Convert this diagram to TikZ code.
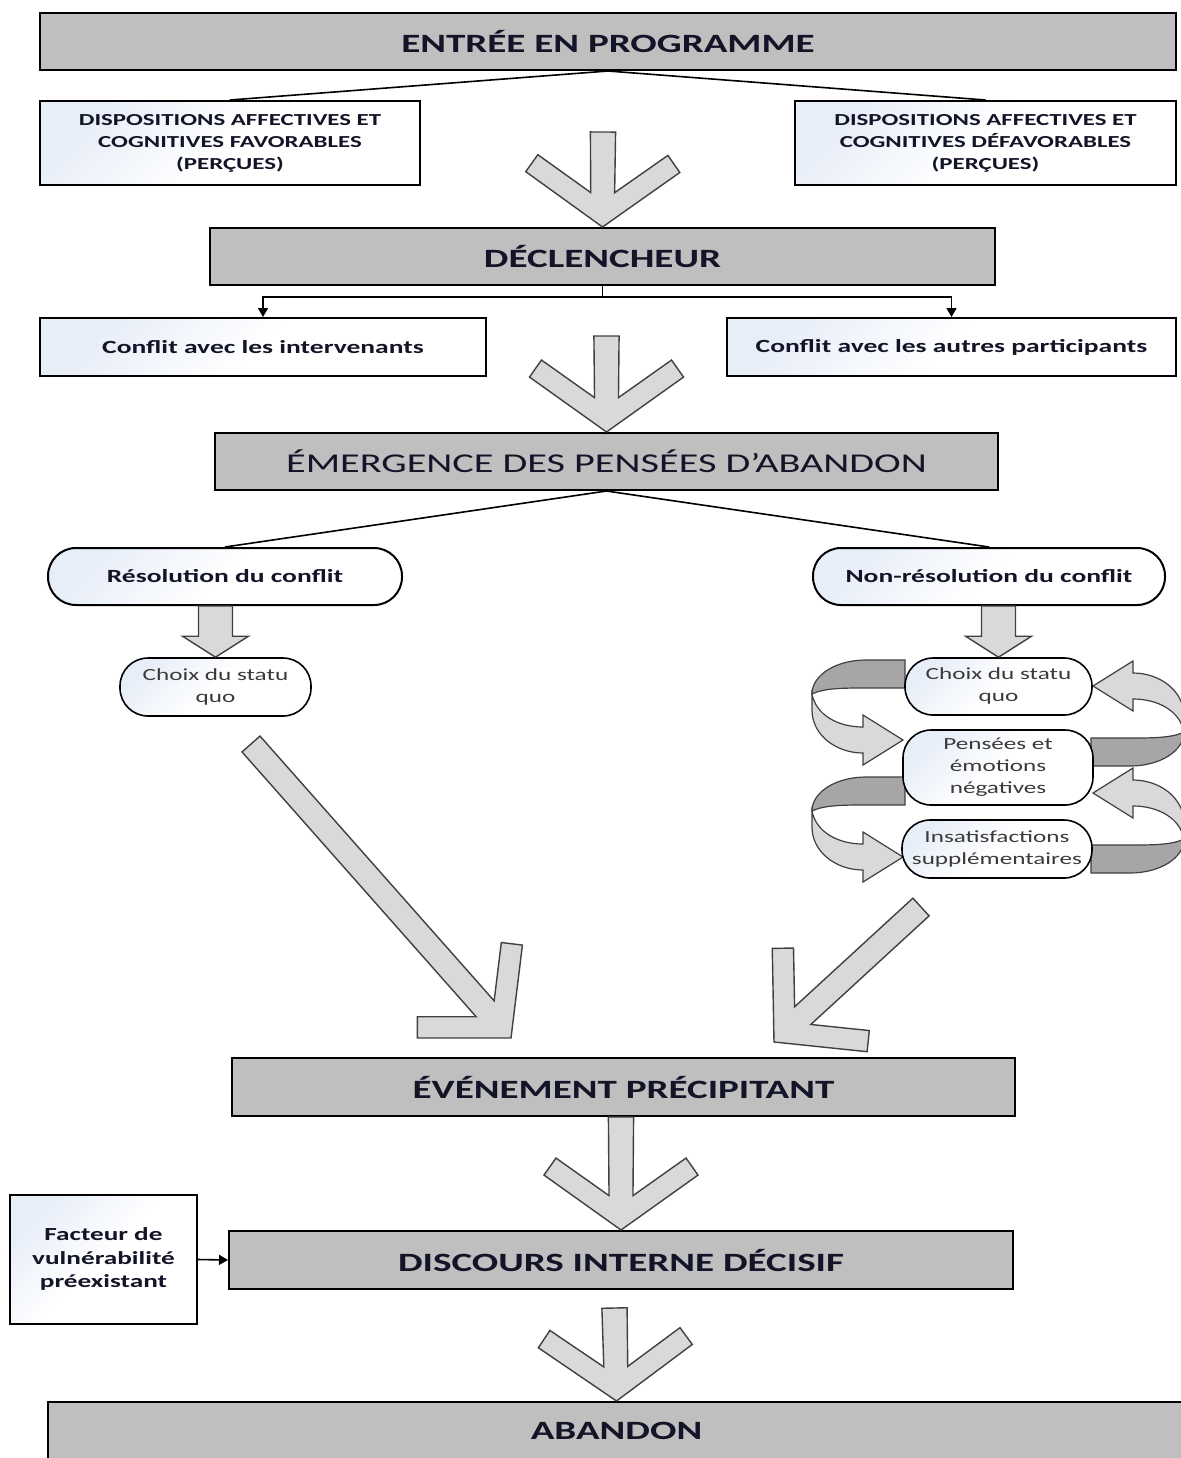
\documentclass[tikz,border=0pt]{standalone}
\usepackage{fontspec}
\setmainfont{Carlito}
\usepackage{graphicx}
\usetikzlibrary{calc,arrows.meta}

\definecolor{boxgray}{HTML}{BFBFBF}
\definecolor{arrowgray}{HTML}{D9D9D9}
\definecolor{bandgray}{HTML}{A6A6A6}
\definecolor{tint}{HTML}{E8EEF8}
\definecolor{inkgray}{HTML}{3A3A3A}
\definecolor{ink}{HTML}{141428}

% wide lettering
\newcommand\wide[1]{\scalebox{1.48}[1]{#1}}
\newcommand\lines[1]{\wide{\begin{tabular}{@{}c@{}}#1\end{tabular}}}

% open (chevron-headed) arrow from tail #1 to tip #2
\newcommand\chevron[2]{%
  \filldraw[arrowline]
    ($(#1)!\cw!90:(#2)$) -- ($(#2)!\cmd!-\cma:(#1)$) -- ($(#2)!\ccd!-\cca:(#1)$)
    -- ($(#2)!\cod!-\coa:(#1)$) -- (#2) -- ($(#2)!\cod!\coa:(#1)$)
    -- ($(#2)!\ccd!\cca:(#1)$) -- ($(#2)!\cmd!\cma:(#1)$) -- ($(#1)!\cw!-90:(#2)$) -- cycle;}
\newcommand\straightset{\def\cw{6.3pt}\def\cmd{18.2pt}\def\cma{19.2}\def\ccd{48.5pt}\def\cca{42.1}\def\cod{47.3pt}\def\coa{54.5}}
\newcommand\slantset{\def\cw{6pt}\def\cmd{20.4pt}\def\cma{17.1}\def\ccd{48pt}\def\cca{35.7}\def\cod{46.8pt}\def\coa{48.5}}

% small solid block arrow pointing down from #1 to #2
\newcommand\blockdown[2]{%
  \filldraw[arrowline] ($(#1)+(-17,0)$) -- ($(#2)+(-17,-21)$) -- ($(#2)+(-33,-21)$) -- (#2)
    -- ($(#2)+(33,-21)$) -- ($(#2)+(17,-21)$) -- ($(#1)+(17,0)$) -- cycle;}

% curved loop arrow, centre (#1,#2), turned by #3 degrees
\newcommand\curlarrow[3]{%
  \begin{scope}[shift={(#1,#2)},rotate=#3]
    \filldraw[bandline,fill=bandgray] (39,-47) -- (0,-47) .. controls (-30,-47) and (-54,-32) .. (-54,-13)
      .. controls (-42,-19) and (-22,-19) .. (0,-19) -- (39,-19) -- cycle;
    \filldraw[bandline,fill=arrowgray] (-54,-13) -- (-54,3) .. controls (-54,28) and (-30,46) .. (-3,46)
      -- (-3,58) -- (37,33) -- (-3,8) -- (-3,20) .. controls (-28,20) and (-50,8) .. (-54,-13) -- cycle;
  \end{scope}}

\begin{document}
\begin{tikzpicture}[x=0.5pt,y=-0.5pt,
  box/.style 2 args={draw=black,line width=1pt,inner sep=0pt,text=ink,
    minimum width=#1*0.5pt,minimum height=#2*0.5pt},
  stage/.style={fill=boxgray,font=\fontsize{13.2}{15}\selectfont\bfseries},
  note/.style={top color=tint,bottom color=white,middle color=white,shading angle=45},
  pill/.style={note,rounded corners=14pt},
  smallpill/.style={pill,text=inkgray,line width=0.8pt,font=\fontsize{8.5}{11}\selectfont},
  link/.style={line width=0.8pt,draw=black},
  tip/.style={link,-{Triangle[width=5pt,length=4.5pt]}},
  arrowline/.style={fill=arrowgray,draw=black!75,line width=0.7pt,line join=miter},
  bandline/.style={draw=black!75,line width=0.6pt}]

\useasboundingbox (0,0) rectangle (1181,1458);
\clip (0,0) rectangle (1181,1458);

% looping arrows beside the right-hand column
\curlarrow{866}{707}{0}
\curlarrow{866}{824}{0}
\curlarrow{1130}{719}{180}
\curlarrow{1130}{826}{180}

% main stages
\node[box={1136}{57},stage] (entree) at (608,41.5) {\wide{ENTRÉE EN PROGRAMME}};
\node[box={785}{57},stage] (decl) at (602.5,256.5) {\wide{DÉCLENCHEUR}};
\node[box={783}{57},fill=boxgray,font=\fontsize{13.6}{16}\selectfont] (emerg) at (606.5,461.5)
  {\wide{ÉMERGENCE DES PENSÉES D’ABANDON}};
\node[box={783}{58},stage] (event) at (623.5,1087) {\wide{ÉVÉNEMENT PRÉCIPITANT}};
\node[box={784}{58},stage] (discours) at (621,1260) {\wide{DISCOURS INTERNE DÉCISIF}};
\node[box={1137}{58},stage] (abandon) at (616.5,1431) {\wide{ABANDON}};

% dispositions
\node[box={380}{84},note,font=\fontsize{8.4}{11}\selectfont\bfseries] (dispL) at (230,143)
  {\lines{DISPOSITIONS AFFECTIVES ET\\COGNITIVES FAVORABLES\\(PERÇUES)}};
\node[box={381}{84},note,font=\fontsize{8.4}{11}\selectfont\bfseries] (dispR) at (985.5,143)
  {\lines{DISPOSITIONS AFFECTIVES ET\\COGNITIVES DÉFAVORABLES\\(PERÇUES)}};

% conflicts
\node[box={446}{58},note,font=\fontsize{9.3}{11}\selectfont\bfseries] (confL) at (263,347)
  {\wide{Conflit avec les intervenants}};
\node[box={449}{58},note,font=\fontsize{9.3}{11}\selectfont\bfseries] (confR) at (951.5,347)
  {\wide{Conflit avec les autres participants}};

% resolution branches
\node[box={354}{57},pill,font=\fontsize{9.3}{11}\selectfont\bfseries] (resL) at (225,576.5)
  {\wide{Résolution du conflit}};
\node[box={352}{57},pill,font=\fontsize{9.3}{11}\selectfont\bfseries] (resR) at (989,576.5)
  {\wide{Non-résolution du conflit}};
\node[box={191}{58},smallpill] (choixL) at (215.5,687) {\lines{Choix du statu\\quo}};
\node[box={187}{57},smallpill] (choixR) at (998.5,686.5) {\lines{Choix du statu\\quo}};
\node[box={190}{75},smallpill] (pensees) at (998,767.5) {\lines{Pensées et\\émotions\\négatives}};
\node[box={190}{58},smallpill] (insat) at (997,849) {\lines{Insatisfactions\\supplémentaires}};

% vulnerability factor
\node[box={187}{129},note,font=\fontsize{9.2}{11.7}\selectfont\bfseries] (facteur) at (103.5,1259.5)
  {\lines{Facteur de\\vulnérabilité\\préexistant}};

% thin connectors
\draw[link] (entree.south) -- (dispL.north);
\draw[link] (entree.south) -- (dispR.north);
\coordinate (split) at (602.5,297);
\draw[link] (decl.south) -- (split);
\draw[tip] (split) -| (confL.north);
\draw[tip] (split) -| (confR.north);
\draw[link] (emerg.south) -- (resL.north);
\draw[link] (emerg.south) -- (resR.north);
\draw[tip] (facteur.east) -- (discours.west);

% block arrows under the resolution branches
\coordinate (bl) at (resL.south -| choixL.north);
\coordinate (br) at (resR.south -| choixR.north);
\blockdown{bl}{choixL.north}
\blockdown{br}{choixR.north}

% large open arrows
\straightset
\coordinate (a1) at (603,132);
\coordinate (a2) at (606.5,336);
\coordinate (a3) at (621,1117);
\coordinate (a4) at (614.5,1308);
\chevron{a1}{decl.north}
\chevron{a2}{emerg.north}
\chevron{a3}{discours.north}
\chevron{a4}{abandon.north}

\slantset
\coordinate (d1s) at (251,744);
\coordinate (d1t) at (511,1038);
\coordinate (d2s) at (921,907);
\coordinate (d2t) at (774,1042);
\chevron{d1s}{d1t}
\chevron{d2s}{d2t}

\end{tikzpicture}
\end{document}
